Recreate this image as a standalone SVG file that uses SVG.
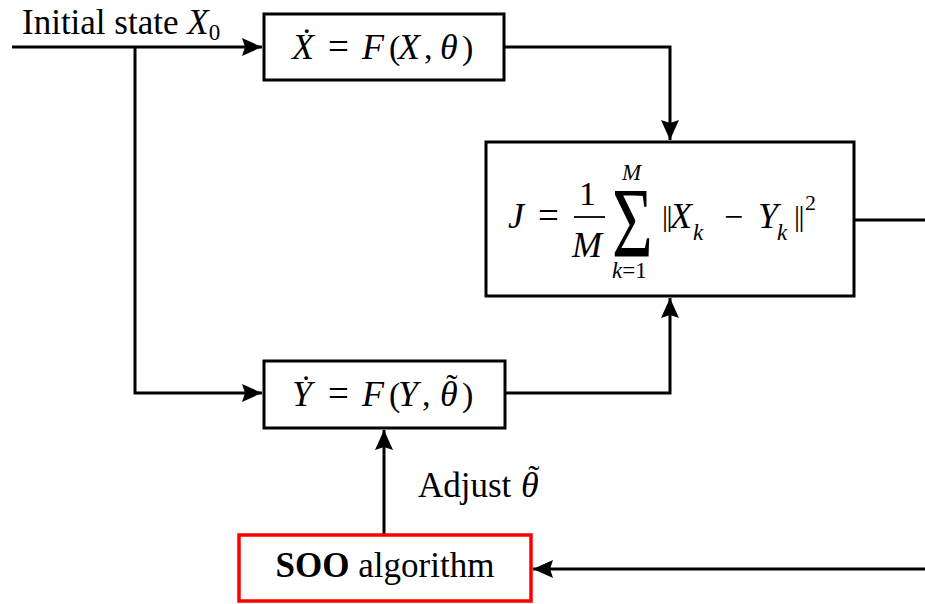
<svg xmlns="http://www.w3.org/2000/svg" width="925" height="604" viewBox="0 0 925 604">
<style>
.box{fill:#fff;stroke:#000;stroke-width:3}
.red{fill:#fff;stroke:#f00;stroke-width:3.5}
.ln{fill:none;stroke:#000;stroke-width:3}
text{font-family:"Liberation Serif","Times New Roman",serif;fill:#000}
.t{font-size:35px}
.m{font-style:italic;font-size:36px}
.u{font-size:34px}
.eq{font-size:37px}
.s{font-size:22px}
.si{font-size:23px;font-style:italic}
</style>
<defs>
<marker id="ah" markerWidth="22" markerHeight="18" refX="20" refY="9" orient="auto" markerUnits="userSpaceOnUse">
<path d="M0,0 L20,9 L0,18 L3,9 Z" fill="#000"/>
</marker>
</defs>
<g id="connectors">
<line class="ln" x1="12" y1="47" x2="262" y2="47" marker-end="url(#ah)"/>
<polyline class="ln" points="135,47 135,393 262,393" marker-end="url(#ah)"/>
<polyline class="ln" points="504,47 670,47 670,140" marker-end="url(#ah)"/>
<polyline class="ln" points="505,393 670,393 670,298" marker-end="url(#ah)"/>
<line class="ln" x1="854" y1="220" x2="925" y2="220"/>
<line class="ln" x1="384" y1="535" x2="384" y2="430" marker-end="url(#ah)"/>
<line class="ln" x1="925" y1="569" x2="533" y2="569" marker-end="url(#ah)"/>
</g>
<g id="label-initial">
<text class="t" x="22" y="34" font-size="34">Initial state <tspan font-style="italic">X</tspan><tspan font-size="23" dy="6">0</tspan></text>
</g>
<g id="node-x">
<rect class="box" x="264" y="14" width="240" height="66"/>
<text class="m" x="292" y="59">Ẋ</text>
<text class="eq" x="328" y="59">=</text>
<text class="m" x="362" y="59">F</text>
<text class="u" x="389" y="59">(</text>
<text class="m" x="398" y="59">X</text>
<text class="u" x="424" y="59">,</text>
<text class="m" x="440" y="59">θ</text>
<text class="u" x="462" y="59">)</text>
</g>
<g id="node-j">
<rect class="box" x="486" y="142" width="368" height="154"/>
<text class="m" x="508" y="228">J</text>
<text class="eq" x="538" y="228">=</text>
<text class="u" x="579" y="205" font-size="32">1</text>
<line x1="574" y1="217" x2="605" y2="217" stroke="#000" stroke-width="1.8"/>
<text class="m" x="572" y="257" font-size="34">M</text>
<text class="si" x="622" y="180">M</text>
<text transform="translate(612,256) scale(0.7,1)" x="0" y="0" font-size="100">Σ</text>
<text class="si" x="612" y="278">k<tspan font-style="normal">=1</tspan></text>
<text x="662" y="226" font-size="30" letter-spacing="-1.5">||</text>
<text class="m" x="670" y="228">X</text>
<text class="si" x="693" y="240">k</text>
<text class="u" x="724" y="228">−</text>
<text class="m" x="758" y="228">Y</text>
<text class="si" x="777" y="240">k</text>
<text x="794" y="226" font-size="30" letter-spacing="-1.5">||</text>
<text class="s" x="805" y="210">2</text>
</g>
<g id="node-y">
<rect class="box" x="264" y="361" width="241" height="67"/>
<text class="m" x="292" y="406">Ẏ</text>
<text class="eq" x="328" y="406">=</text>
<text class="m" x="362" y="406">F</text>
<text class="u" x="389" y="406">(</text>
<text class="m" x="398" y="406">Y</text>
<text class="u" x="422" y="406">,</text>
<text class="m" x="440" y="406">θ</text>
<text class="u" x="452" y="398" text-anchor="middle">˜</text>
<text class="u" x="462" y="406">)</text>
</g>
<g id="label-adjust">
<text class="t" x="418" y="497">Adjust</text>
<text class="m" x="521" y="497">θ</text>
<text class="u" x="534" y="489" text-anchor="middle">˜</text>
</g>
<g id="node-soo">
<rect class="red" x="239" y="535" width="292" height="66"/>
<text class="t" x="385" y="577" text-anchor="middle"><tspan font-weight="bold">SOO</tspan> algorithm</text>
</g>
</svg>
